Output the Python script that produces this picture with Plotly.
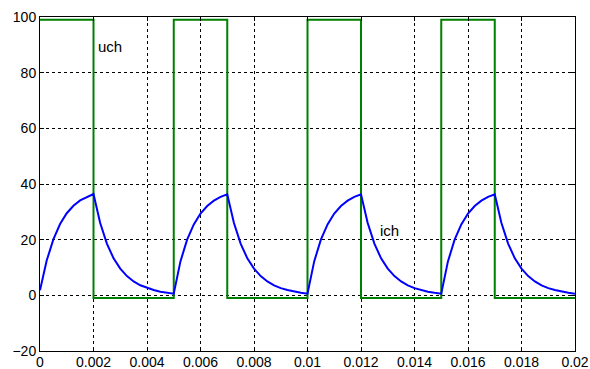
import plotly.graph_objects as go

# Sampled times (s) for one period; four periods shown
t_period = [0.0, 0.00025, 0.0005, 0.00075, 0.001, 0.00125, 0.0015, 0.00175, 0.002,
            0.00225, 0.0025, 0.00275, 0.003, 0.00325, 0.0035, 0.00375, 0.004,
            0.00425, 0.0045, 0.00475]
# ich values (per period)
ich_p1 = [1.8, 12.5, 20.1, 25.6, 29.5, 32.2, 34.1, 35.4, 36.4,
          26.0, 18.6, 13.3, 9.6, 6.9, 5.0, 3.6, 2.7, 1.9, 1.3, 0.9]
ich_p2 = [0.6, 12.2, 20.0, 25.5, 29.4, 32.1, 34.0, 35.4, 36.3,
          26.0, 18.6, 13.3, 9.6, 6.9, 5.0, 3.6, 2.6, 1.9, 1.3, 0.9]
ich_p3 = [0.6, 12.2, 20.0, 25.5, 29.4, 32.1, 34.0, 35.4, 36.3,
          26.0, 18.6, 13.3, 9.6, 6.9, 5.0, 3.6, 2.6, 1.9, 1.3, 0.9]
ich_p4 = [0.6, 12.2, 20.0, 25.5, 29.4, 32.1, 34.0, 35.4, 36.3,
          26.0, 18.6, 13.3, 9.6, 6.9, 5.0, 3.6, 2.6, 1.9, 1.3, 0.9]
ich_end = 0.6

# uch square wave: switching instants and levels
uch_t = [0.0, 0.002, 0.002, 0.005, 0.005, 0.007, 0.007, 0.010, 0.010, 0.012, 0.012,
         0.015, 0.015, 0.017, 0.017, 0.020]
uch_v = [99, 99, -1, -1, 99, 99, -1, -1, 99, 99, -1, -1, 99, 99, -1, -1]

period = 0.005
ich_t, ich_v = [], []
for k, vals in enumerate([ich_p1, ich_p2, ich_p3, ich_p4]):
    for tt, vv in zip(t_period, vals):
        ich_t.append(k * period + tt)
        ich_v.append(vv)
ich_t.append(0.02)
ich_v.append(ich_end)

x_ticks = [0, 0.002, 0.004, 0.006, 0.008, 0.01, 0.012, 0.014, 0.016, 0.018, 0.02]
x_tick_text = ["0", "0.002", "0.004", "0.006", "0.008", "0.01", "0.012", "0.014",
               "0.016", "0.018", "0.02"]
y_ticks = [-20, 0, 20, 40, 60, 80, 100]

FONT = "Liberation Sans"

fig = go.Figure()
fig.add_trace(go.Scatter(x=uch_t, y=uch_v, mode="lines",
                         line=dict(color="#008000", width=2), showlegend=False))
fig.add_trace(go.Scatter(x=ich_t, y=ich_v, mode="lines",
                         line=dict(color="#0000FF", width=2), showlegend=False))

fig.add_annotation(x=0.00211, y=89.5, text="uch", showarrow=False, xanchor="left",
                   font=dict(size=15, color="black", family=FONT))
fig.add_annotation(x=0.01262, y=23.3, text="ich", showarrow=False, xanchor="left",
                   font=dict(size=15, color="black", family=FONT))

axis_common = dict(showline=True, linecolor="black", linewidth=1, mirror="ticks",
                   ticks="inside", ticklen=4, tickcolor="black",
                   showgrid=True, gridcolor="black", griddash="dot", gridwidth=1,
                   zeroline=False,
                   tickfont=dict(size=14, color="black", family=FONT))

fig.update_xaxes(range=[0, 0.02], tickvals=x_ticks, ticktext=x_tick_text,
                 ticklabelstandoff=-2, **axis_common)
fig.update_yaxes(range=[-20, 100], tickvals=y_ticks, **axis_common)

fig.update_layout(width=590, height=369, plot_bgcolor="white", paper_bgcolor="white",
                  margin=dict(l=40, r=15, t=17, b=18, autoexpand=False))

fig.write_html("out.html")
